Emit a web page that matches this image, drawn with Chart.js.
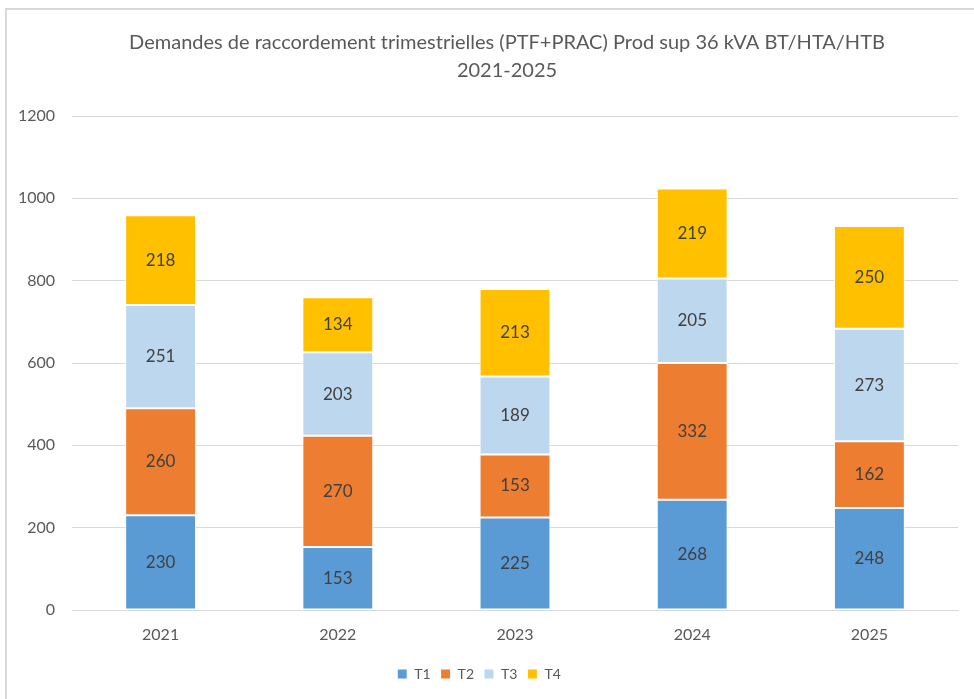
<!DOCTYPE html>
<html><head><meta charset="utf-8">
<script src="https://cdn.jsdelivr.net/npm/chart.js@4/dist/chart.umd.min.js"></script>
<style>
html,body{margin:0;padding:0;background:#fff;}
#wrap{position:absolute;left:0;top:0;width:974px;height:699px;}
#frame{position:absolute;left:5px;top:8px;width:990px;height:720px;border-left:2px solid #d9d9d9;border-top:2px solid #d9d9d9;}
canvas{position:absolute;left:0;top:0;}
</style></head>
<body><div id="wrap"><div id="frame"></div><canvas id="c" width="974" height="699"></canvas></div>
<script>
const categories = ["2021","2022","2023","2024","2025"];
const seriesNames = ["T1","T2","T3","T4"];
const t1 = [230,153,225,268,248];
const t2 = [260,270,153,332,162];
const t3 = [251,203,189,205,273];
const t4 = [218,134,213,219,250];
const colors = ["#5B9BD5","#ED7D31","#BDD7EE","#FFC000"];
const titleLines = ["Demandes de raccordement trimestrielles (PTF+PRAC) Prod sup 36 kVA BT/HTA/HTB","2021-2025"];
const FONT = "Lato, 'Open Sans', sans-serif";

const labelPlugin = {
  id:'labels',
  afterDatasetsDraw(chart){
    const ctx = chart.ctx;
    ctx.save();
    ctx.font = "17px " + FONT;
    ctx.fillStyle = "#404040";
    ctx.textAlign = "center";
    ctx.textBaseline = "middle";
    chart.data.datasets.forEach((ds,i)=>{
      chart.getDatasetMeta(i).data.forEach((bar,j)=>{
        const y = (bar.y + bar.base)/2;
        ctx.fillText(String(ds.data[j]), bar.x, y);
      });
    });
    ctx.restore();
  }
};

const titlePlugin = {
  id:'ctitle',
  afterDraw(chart){
    const ctx = chart.ctx;
    ctx.save();
    ctx.font = "20px " + FONT;
    ctx.fillStyle = "#595959";
    ctx.textAlign = "center";
    ctx.textBaseline = "middle";
    const cx = 507;
    titleLines.forEach((t,i)=>ctx.fillText(t, cx, 43 + i*28));
    ctx.restore();
  }
};

new Chart(document.getElementById('c'),{
  type:'bar',
  data:{
    labels:categories,
    datasets:[t1,t2,t3,t4].map((d,i)=>({label:seriesNames[i],data:d,backgroundColor:colors[i],borderColor:'#ffffff',borderWidth:1,borderSkipped:false,categoryPercentage:1,barPercentage:0.4}))
  },
  options:{
    responsive:false,animation:false,
    layout:{padding:{left:0,right:16,top:116,bottom:8}},
    plugins:{
      legend:{position:'bottom',labels:{font:{family:FONT,size:14},color:'#595959',boxWidth:10,boxHeight:10,padding:10}},
      title:{display:false},
      tooltip:{enabled:false}
    },
    scales:{
      x:{stacked:true,grid:{display:false,drawTicks:false},border:{display:true,color:'#d9d9d9',width:1},
         ticks:{font:{family:FONT,size:16},color:'#595959',padding:15},
         afterFit(s){s.height=47;}},
      y:{stacked:true,min:0,max:1200,ticks:{stepSize:200,font:{family:FONT,size:16},color:'#595959',padding:17,callback:(v)=>String(v)},
         grid:{color:'#d9d9d9',drawTicks:false},border:{display:false},
         afterFit(s){s.width=72;}}
    }
  },
  plugins:[labelPlugin,titlePlugin]
});
</script></body></html>
